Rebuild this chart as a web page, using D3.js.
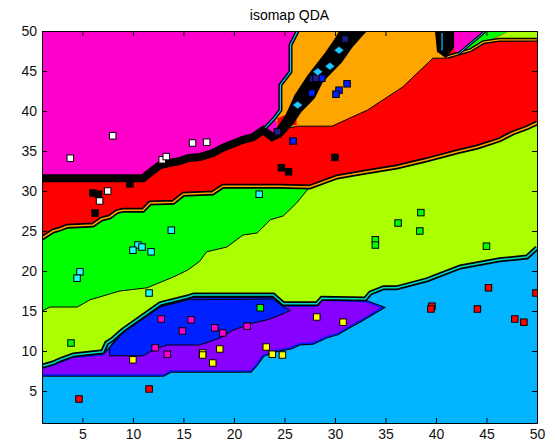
<!DOCTYPE html>
<html>
<head>
<meta charset="utf-8">
<script src="https://cdn.jsdelivr.net/npm/d3@7"></script>
<style>
  body { margin: 0; background: #fff; }
  svg { display: block; font-family: "Liberation Sans", Arial, sans-serif; }
</style>
</head>
<body>
<div id="chart"></div>
<script>
const W = 555, H = 443;
const box = { left: 42, right: 537, top: 31, bottom: 423 };

const xTicks = [5, 10, 15, 20, 25, 30, 35, 40, 45, 50];
const yTicks = [5, 10, 15, 20, 25, 30, 35, 40, 45, 50];

// decision region boundaries (data units)
const magentaRedEdge = [[1,31.6],[11,31.6],[12,32.6],[12.7,33.25],[14,33.6],[14.7,33.75],[15.4,34.1],[16.6,34.25],
  [17.9,34.75],[18.9,35.4],[19.9,35.9],[20.9,36.4],[21.9,36.75],[22.9,37.6],[23.8,36.75],[24.6,37.25]];
const redTail = [[25.1,38.25],[26,41.4],[27.3,44.5],[29,47.25],[30.8,50],[50,50],[50,1],[1,1]];

const orangeRegion = [[26.3,50],[25.6,48.25],[25.6,44.9],[24.6,43.25],[24.6,40.1],[24.1,39.25],[24.4,37.6],
  [26.3,38.1],[29.7,38.1],[31.7,39.25],[33.2,40.1],[36.7,43],[39.7,46.6],[41,46.6],[40.1,47.6],[40.1,50]];
const magentaOrangeEdge = [[26.3,50],[25.6,48.25],[25.6,44.9],[24.6,43.25],[24.6,40.1],[24.1,39.25],[23.1,37.9]];
const redPatch = [[24.3,39.1],[26.2,40.1],[26.2,38.25],[24.3,38]];

const darkBand = [[23.8,37.1],[25.1,39.5],[26,42],[27.3,44.5],[29,47.25],[30,49.1],[30.4,50],[33.2,50],
  [32.8,49.5],[31.7,47.9],[30.7,46.1],[28.8,43.6],[28,41.6],[26.7,39.9],[25.8,38.25],[24.6,36.6]];
const darkWedge = [[39.9,50],[41.8,50],[41.8,48],[41,46.6],[40.1,47.4]];
const cyanEdge = [[40.6,49.75],[40.6,47.6]];
const magentaWedge = [[41.8,50],[44.8,50],[42.3,47.3],[41.8,47.5]];
const wedgeEdge = [[44.9,50],[42.2,47.1]];
const greenWedge = [[44.9,50],[47.3,50],[45.4,48.9],[43.4,47.6],[41.9,46.9]];
const limeCorner = [[47.3,50],[50,50],[50,48.9],[46.3,48.9],[45.1,48.6]];
const redTopEdge = [[41.1,46.75],[43.4,47.6],[44.7,48.6],[46.3,48.9],[50,48.9]];

const redGreenEdge = [[1,24.1],[2.1,25],[2.8,25.25],[3.5,25.6],[6.05,25.75],[6.9,26.5],[7.7,26.75],[8.4,27.4],
  [9,27.6],[11,27.6],[11.7,28.5],[14,28.6],[15,29.6],[17.9,29.75],[18.9,30.6],[24.6,30.6],[27.5,30.5],
  [30.2,31.75],[33.2,32.4],[36.1,33],[39.1,33.9],[42.1,34.9],[44.1,35.5],[46.3,36.4],[47.6,37.25],[49,37.9],[50,38.5]];
const greenLimeEdge = [[1,15],[1.8,15.5],[4.5,15.5],[5.75,16.4],[8.7,17.5],[11.4,17.9],[14,19.25],[15.4,20.1],
  [16.6,21.2],[17.3,22.4],[19.3,23],[20.9,24.5],[22.3,24.75],[23.6,26.4],[24.9,26.9],[26.2,28.5],[27.5,30.5]];
const limeLowerEdge = [[1,8.1],[2.1,8.5],[2.8,8.9],[4.1,9.5],[7,9.9],[7.4,11],[7.9,11.4],[9,12.6],[12.7,15.9],
  [15.4,16.75],[16,17],[23.9,17],[24.9,15.9],[28.2,15.9],[28.7,16.6],[33,16.5],[33.5,17.25],[34.8,17.9],
  [36.1,17.9],[39.1,18.9],[42.4,20.5],[46.3,21.4],[49,21.75],[50,22.9]];

const purpleRegion = [[1,7.75],[2.1,8.1],[2.8,8.5],[4.1,9.1],[7,9.4],[7.7,10.1],[9,12.1],[12.7,15.4],[15.4,16.4],
  [23.9,16.5],[24.9,15.5],[28.2,15.5],[28.7,16.25],[33,16.1],[34.5,15.4],[32.5,13.9],[31.2,13],[30.2,12.25],
  [29.2,11.9],[27.8,11.1],[26.5,11],[25.6,10.5],[23.9,10.1],[22.8,9.5],[22.1,8.25],[21.6,7.6],[13.7,7.6],
  [13,7.1],[1,7.1]];
const blueRegion = [[7.7,9.4],[7.7,10.4],[9,12.25],[12.7,15.5],[15.4,16.4],[23.9,16.5],[24.9,15.5],[25.6,15.1],
  [24.6,14.5],[23.3,13.9],[21.9,13.5],[19.9,12.6],[18.6,11.6],[16.6,10.75],[13.4,10.75],[12.2,10.25],[11,9.4]];

// samples per class
const whitePts = [[3.8,34.1],[8,36.9],[12.9,33.9],[13.3,34.3],[15.9,36],[17.3,36.1],[7.5,30],[6.7,28.75]];
const blackPts = [[6.05,29.75],[6.6,29.6],[6.25,27.25],[9.7,30.9],[24.7,32.9],[25.4,32.4],[30,34.2]];
const bluePts = [[31.2,43.4],[30.4,42.6],[30.1,42.1],[25.85,36.25],[28.7,44.1],[27.7,42.25]];
const navyPts = [[31,49],[31.5,50.2],[27.8,44],[28.1,44.1],[24.3,37.4]];
const cyanDiamonds = [[30.4,47.6],[29.5,45.6],[28.3,44.9],[26.3,40.75]];
const cyanPts = [[22.5,29.6],[13.8,25.1],[10.5,23.25],[10.9,23],[10,22.6],[11.8,22.4],[4.76,19.9],[4.47,19.1],[11.6,17.25]];
const greenPts = [[3.87,11],[22.6,15.4],[34,23.9],[34,23.25],[36.25,26],[38.5,27.3],[38.4,25],[45,23.1]];
const magentaPts = [[12.8,14],[15.75,13.9],[14.9,12.5],[18.1,12.9],[18.9,12.25],[21.3,13.1],[12.2,10.4],[13.4,9.6]];
const yellowPts = [[10,8.9],[16.9,9.75],[16.9,9.5],[18.6,10.25],[17.9,8.5],[23.2,10.5],[23.8,9.6],[24.8,9.5],[28.2,14.25],[30.8,13.6]];
const redPts = [[4.66,4],[11.6,5.25],[39.6,15.6],[39.5,15.25],[44.1,15.25],[45.2,17.9],[47.8,14],[48.7,13.6],[49.9,17.25]];

const col = {
  magenta: "#ff00cc", red: "#ff0000", orange: "#ffa500", green: "#00ff00", lime: "#aaff00",
  sky: "#00b4ff", purple: "#8800ff", blue: "#0020ff", navy: "#1e1e8c", cyan: "#22ffff", diamond: "#22c8ff"
};

const x = d3.scaleLinear().domain([1, 50]).range([box.left, box.right]);
const y = d3.scaleLinear().domain([1, 50]).range([box.bottom, box.top]);
const line = d3.line().x(d => x(d[0])).y(d => y(d[1]));
const shape = pts => line(pts) + "Z";

const svg = d3.select("#chart").append("svg").attr("width", W).attr("height", H);
svg.append("rect").attr("width", W).attr("height", H).attr("fill", "#fff");

svg.append("defs").append("clipPath").attr("id", "plot")
  .append("rect")
  .attr("x", box.left).attr("y", box.top)
  .attr("width", box.right - box.left).attr("height", box.bottom - box.top);

const g = svg.append("g").attr("clip-path", "url(#plot)");

const fillShape = (pts, fill) => g.append("path").attr("d", shape(pts)).attr("fill", fill).attr("stroke", "none");
const edge = (pts, color, w) => g.append("path").attr("d", line(pts)).attr("fill", "none")
  .attr("stroke", color).attr("stroke-width", w).attr("stroke-linejoin", "miter");

// background class
fillShape([[1,1],[50,1],[50,50],[1,50]], col.magenta);
// red
fillShape(magentaRedEdge.concat(redTail), col.red);
// orange
fillShape(orangeRegion, col.orange);
edge(orangeRegion.slice(6, 14), "#000", 1);
fillShape(redPatch, col.red);
fillShape(darkBand, "#000");

// green band
fillShape(redGreenEdge.concat([[50,1],[1,1]]), col.green);
// lime band
fillShape(greenLimeEdge.concat(redGreenEdge.slice(17), [[50,1],[1,1]]), col.lime);
edge(greenLimeEdge, "#000", 1);
edge(redGreenEdge, "#000", 5);
edge(redGreenEdge, col.orange, 1.6);

// sky blue
fillShape(limeLowerEdge.concat([[50,1],[1,1]]), col.sky);

// purple with blue/black rim
g.append("path").attr("d", shape(purpleRegion)).attr("fill", col.purple).attr("stroke", "#000").attr("stroke-width", 5);
g.append("path").attr("d", shape(purpleRegion)).attr("fill", "none").attr("stroke", col.blue).attr("stroke-width", 3);
fillShape(purpleRegion, col.purple);
// blue
g.append("path").attr("d", shape(blueRegion)).attr("fill", col.blue).attr("stroke", "#000").attr("stroke-width", 1);

edge(limeLowerEdge, "#000", 5);
edge(limeLowerEdge, "#00d8c0", 1.6);

// class borders on top
edge(magentaRedEdge, "#000", 8);
edge(magentaOrangeEdge, "#000", 4);
edge(magentaOrangeEdge, "#00c8ff", 1.2);

// top right corner pieces
fillShape(greenWedge, col.green);
fillShape(limeCorner, col.lime);
edge(redTopEdge, "#000", 4);
edge(redTopEdge, col.orange, 1.2);
fillShape(darkWedge, "#000");
edge(cyanEdge, "#00c8ff", 1.2);
fillShape(magentaWedge, col.magenta);
edge(wedgeEdge, "#000", 3);
edge(wedgeEdge, "#00c8ff", 1);

// samples
const sq = 6.5;
const squares = (pts, fill, stroke) => g.append("g").selectAll("rect").data(pts).join("rect")
  .attr("x", d => x(d[0]) - sq / 2).attr("y", d => y(d[1]) - sq / 2)
  .attr("width", sq).attr("height", sq)
  .attr("fill", fill).attr("stroke", stroke).attr("stroke-width", 1);

squares(whitePts, "#fff", "#000");
squares(blackPts, "#000", "#000");
squares(cyanPts, col.cyan, "#000");
squares(greenPts, col.green, "#000");
squares(magentaPts, col.magenta, "#000");
squares(yellowPts, "#ffff00", "#000");
squares(redPts, col.red, "#000");
squares(bluePts, col.blue, "#000");
squares(navyPts, col.navy, "#000");

g.append("g").selectAll("path").data(cyanDiamonds).join("path")
  .attr("d", d => {
    const cx = x(d[0]), cy = y(d[1]);
    return `M${cx - 4.5},${cy}L${cx},${cy - 3.5}L${cx + 4.5},${cy}L${cx},${cy + 3.5}Z`;
  })
  .attr("fill", col.diamond).attr("stroke", "#0a8cc8").attr("stroke-width", 0.6);

// axes, ticks pointing inward on all sides
const styleAxis = sel => {
  sel.selectAll("text").attr("font-size", 14).attr("fill", "#111");
  sel.selectAll("line").attr("stroke", "#000");
  sel.select(".domain").attr("stroke", "#000");
};

svg.append("g").attr("transform", `translate(0,${box.bottom})`)
  .call(d3.axisBottom(x).tickValues(xTicks).tickSize(-5).tickSizeOuter(0).tickPadding(6))
  .call(styleAxis);
svg.append("g").attr("transform", `translate(0,${box.top})`)
  .call(d3.axisTop(x).tickValues(xTicks).tickSize(-5).tickSizeOuter(0).tickFormat(""))
  .call(styleAxis);
svg.append("g").attr("transform", `translate(${box.left},0)`)
  .call(d3.axisLeft(y).tickValues(yTicks).tickSize(-5).tickSizeOuter(0).tickPadding(5))
  .call(styleAxis);
svg.append("g").attr("transform", `translate(${box.right},0)`)
  .call(d3.axisRight(y).tickValues(yTicks).tickSize(-5).tickSizeOuter(0).tickFormat(""))
  .call(styleAxis);

svg.append("text")
  .attr("x", (box.left + box.right) / 2).attr("y", 19.5)
  .attr("text-anchor", "middle").attr("font-size", 14).attr("fill", "#000")
  .text("isomap QDA");
</script>
</body>
</html>
